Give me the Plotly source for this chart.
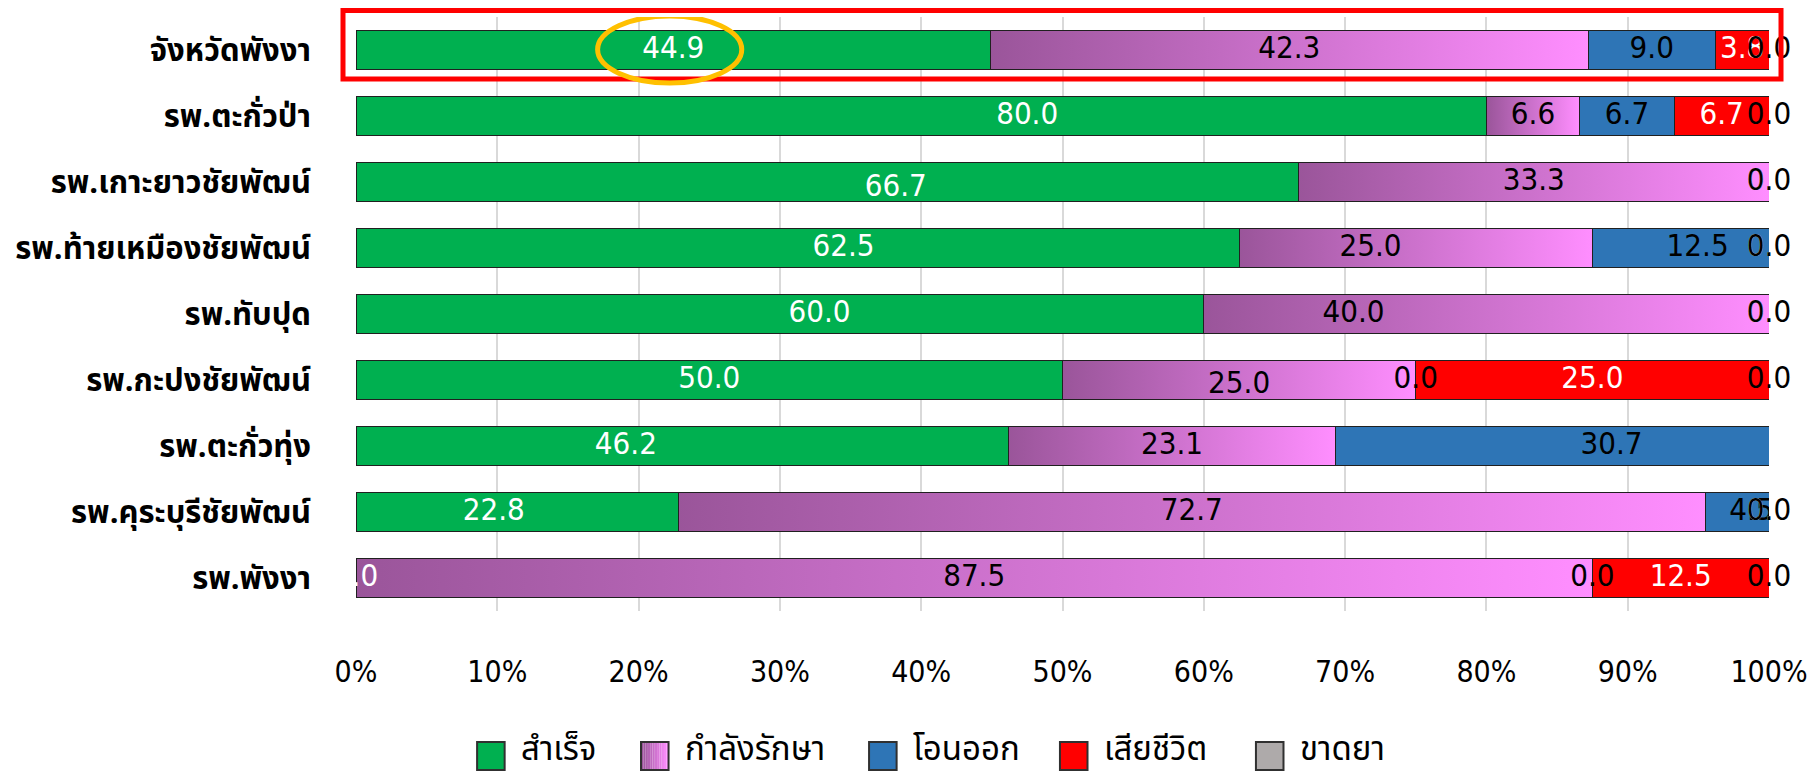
import plotly.graph_objects as go

# rows, top to bottom
hospitals = ["จังหวัดพังงา", "รพ.ตะกั่วป่า", "รพ.เกาะยาวชัยพัฒน์", "รพ.ท้ายเหมืองชัยพัฒน์",
             "รพ.ทับปุด", "รพ.กะปงชัยพัฒน์", "รพ.ตะกั่วทุ่ง", "รพ.คุระบุรีชัยพัฒน์", "รพ.พังงา"]

success = [44.9, 80.0, 66.7, 62.5, 60.0, 50.0, 46.2, 22.8, 0.0]
treating = [42.3, 6.6, 33.3, 25.0, 40.0, 25.0, 23.1, 72.7, 87.5]
transfer = [9.0, 6.7, 0.0, 12.5, 0.0, 0.0, 30.7, 4.5, 0.0]
died = [3.8, 6.7, 0.0, 0.0, 0.0, 25.0, 0.0, 0.0, 12.5]
default = [0.0, 0.0, 0.0, 0.0, 0.0, 0.0, 0.0, 0.0, 0.0]

x_ticks = [0, 10, 20, 30, 40, 50, 60, 70, 80, 90, 100]
x_ticktext = [f"{t}%" for t in x_ticks]

# name, values, fill, label colour, clip label to plot
series = [
    ("สำเร็จ", success, "#00B050", "white", True),
    ("กำลังรักษา", treating, "rgba(0,0,0,0)", "black", True),
    ("โอนออก", transfer, "#2E75B6", "black", True),
    ("เสียชีวิต", died, "#FF0000", "white", True),
    ("ขาดยา", default, "#AEAAAA", "black", False),
]
legend_colors = ["#00B050", None, "#2E75B6", "#FF0000", "#AEAAAA"]
grad_left, grad_right = (0x9A, 0x55, 0x9A), (0xFF, 0x8E, 0xFF)

# hand-moved data labels in the original (series, row) -> (dx %, dy rows)
nudges = {
    (0, 1): (7.5, 0), (0, 2): (4.85, 0.09), (0, 3): (3.25, 0), (0, 4): (2.8, 0),
    (0, 6): (-4.0, 0), (0, 7): (-1.65, 0),
    (1, 3): (-3.2, 0), (1, 4): (-9.4, 0), (1, 5): (0, 0.08),
    (2, 3): (1.2, 0), (2, 6): (4.2, 0), (2, 7): (1.0, 0),
}

ypos = list(range(len(hospitals)))
thai = "Noto Sans Thai, Tahoma, Leelawadee UI, sans-serif"
num_font = "DejaVu Sans Condensed, DejaVu Sans, sans-serif"

fig = go.Figure()

# gradient segments for "กำลังรักษา" drawn underneath the bars
for i, y in enumerate(ypos):
    x0 = success[i]
    x1 = success[i] + treating[i]
    h = 0.3
    fig.add_trace(go.Scatter(
        x=[x0, x1, x1, x0, x0], y=[y - h, y - h, y + h, y + h, y - h],
        mode="none", fill="toself",
        fillgradient=dict(type="horizontal",
                          colorscale=[[0, "#9A559A"], [1, "#FF8EFF"]]),
        showlegend=False, hoverinfo="skip", xaxis="x", yaxis="y",
    ))

base = [0.0] * len(hospitals)
for k, (name, vals, color, tcolor, clip) in enumerate(series):
    fig.add_trace(go.Bar(
        x=vals, y=ypos, orientation="h", name=name, width=0.6,
        marker=dict(color=color, line=dict(color="#202020", width=1)),
        showlegend=False, xaxis="x", yaxis="y2",
    ))
    lx = [b + v / 2 + nudges.get((k, i), (0, 0))[0] for i, (b, v) in enumerate(zip(base, vals))]
    ly = [y + nudges.get((k, i), (0, 0))[1] for i, y in enumerate(ypos)]
    fig.add_trace(go.Scatter(
        x=lx, y=ly, mode="text", text=[f"{v:.1f}" for v in vals],
        textfont=dict(color=tcolor, size=31, family=num_font),
        textposition="middle center", cliponaxis=clip, showlegend=False,
        hoverinfo="skip", xaxis="x", yaxis="y2",
    ))
    base = [b + v for b, v in zip(base, vals)]

# legend drawn by hand: square boxes with labels underneath the chart
shapes = []
annotations = []
leg_x = [0.0857, 0.2017, 0.3631, 0.4982, 0.6369]
box_w, y_lo, y_hi = 0.0195, -0.2677, -0.2205
for k, (name, _, _, _, _) in enumerate(series):
    x0 = leg_x[k]
    if legend_colors[k] is None:
        n = 12
        for j in range(n):
            t = j / (n - 1)
            c = tuple(round(a + (b - a) * t) for a, b in zip(grad_left, grad_right))
            shapes.append(dict(type="rect", xref="paper", yref="paper",
                               x0=x0 + box_w * j / n, x1=x0 + box_w * (j + 1) / n,
                               y0=y_lo, y1=y_hi, line=dict(width=0),
                               fillcolor="rgb(%d,%d,%d)" % c))
        shapes.append(dict(type="rect", xref="paper", yref="paper", x0=x0, x1=x0 + box_w,
                           y0=y_lo, y1=y_hi, line=dict(color="#303030", width=2)))
    else:
        shapes.append(dict(type="rect", xref="paper", yref="paper", x0=x0, x1=x0 + box_w,
                           y0=y_lo, y1=y_hi, fillcolor=legend_colors[k],
                           line=dict(color="#303030", width=2)))
    annotations.append(dict(xref="paper", yref="paper", x=x0 + 0.0295,
                            y=(y_lo + y_hi) / 2 + 0.01, text=name, showarrow=False,
                            xanchor="left", yanchor="middle", height=38, valign="middle",
                            font=dict(size=33, color="black", family=thai)))

shapes += [
    dict(type="rect", xref="paper", yref="paper", x0=-0.0092, x1=1.0085,
         y0=0.8956, y1=1.011, line=dict(color="#FF0000", width=5)),
    dict(type="circle", xref="x", yref="y", x0=17.1, x1=27.3,
         y0=-0.515, y1=0.5, line=dict(color="#FFC000", width=5)),
]

fig.update_layout(
    width=1808, height=764,
    margin=dict(l=348, r=47, t=9, b=161),
    paper_bgcolor="white", plot_bgcolor="white",
    barmode="stack", showlegend=False,
    xaxis=dict(range=[0, 100], tickvals=x_ticks, ticktext=x_ticktext,
               showgrid=True, gridcolor="#D9D9D9", gridwidth=1.5, zeroline=False,
               tickfont=dict(size=30, color="black", family=num_font),
               ticklabelstandoff=40, fixedrange=True, automargin=False),
    yaxis=dict(range=[8.5, -0.5], tickvals=ypos, ticktext=hospitals,
               showgrid=False, zeroline=False, ticks="", automargin=False,
               tickfont=dict(size=31, color="black", family=thai, weight="bold"),
               ticklabelstandoff=44),
    yaxis2=dict(range=[8.5, -0.5], overlaying="y", visible=False, automargin=False),
    shapes=shapes,
    annotations=annotations,
)

fig.write_html("out.html")
